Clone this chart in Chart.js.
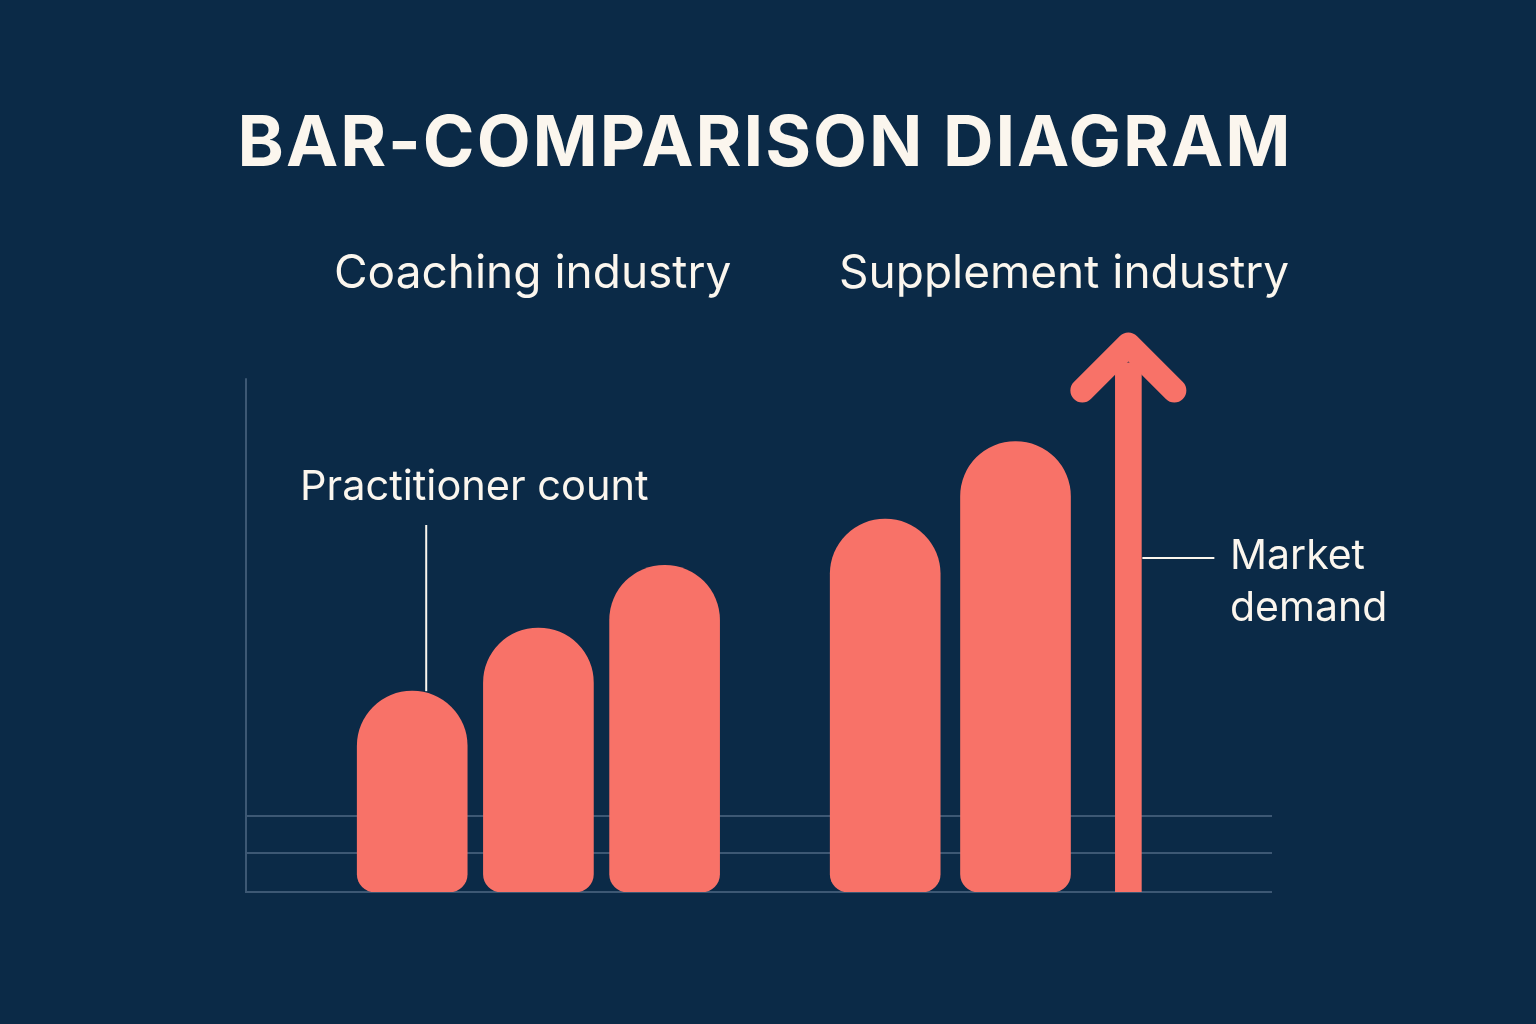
<!DOCTYPE html>
<html><head><meta charset="utf-8">
<script src="https://cdn.jsdelivr.net/npm/chart.js@4/dist/chart.umd.min.js"></script>
<style>
body{margin:0;background:#0b2a47;overflow:hidden;font-family:Inter,"Open Sans",sans-serif;color:#fbf6ee}
#wrap{position:relative;width:1536px;height:1024px}
canvas{position:absolute;left:0;top:0}
.t{position:absolute;white-space:nowrap}
</style></head><body>
<div id="wrap">
<canvas id="c" width="1536" height="1024"></canvas>
<div class="t" style="left:0;width:1530px;text-align:center;top:98px;font-size:70px;font-weight:700;letter-spacing:2px">BAR-COMPARISON DIAGRAM</div>
<div class="t" style="left:334px;top:243px;font-size:46px">Coaching industry</div>
<div class="t" style="left:839px;top:243px;font-size:46px">Supplement industry</div>
<div class="t" style="left:300px;top:460px;font-size:41.5px">Practitioner count</div>
<div class="t" style="left:1230px;top:528px;font-size:41px;line-height:52px">Market<br>demand</div>
</div>
<script>
const categories=["Coaching 1","Coaching 2","Coaching 3","Supplement 1","Supplement 2"];
const xPositions=[1.62,2.85,4.08,6.23,7.5];
const barValues=[39.1,51.4,63.6,72.6,87.7];
const arrowX=8.6, arrowValue=100;
const gridValues=[7.6,14.8];
const coral="#f87268";
const deco={id:"deco",
 beforeDatasetsDraw(ch){const c=ch.ctx,x=ch.scales.x,y=ch.scales.y;
  c.save();c.strokeStyle="#3d5874";c.lineWidth=2;
  const xl=x.getPixelForValue(0),xr=x.getPixelForValue(10);
  c.beginPath();c.moveTo(xl,y.getPixelForValue(100));c.lineTo(xl,y.getPixelForValue(0));c.lineTo(xr,y.getPixelForValue(0));
  gridValues.forEach(v=>{c.moveTo(xl,y.getPixelForValue(v));c.lineTo(xr,y.getPixelForValue(v));});
  c.stroke();c.restore();},
 afterDatasetsDraw(ch){const c=ch.ctx,x=ch.scales.x,y=ch.scales.y;
  c.save();c.strokeStyle=coral;c.lineWidth=24;c.lineCap="round";c.lineJoin="round";
  const ax=x.getPixelForValue(arrowX),ay=y.getPixelForValue(arrowValue+7);
  c.beginPath();c.moveTo(ax-46,ay+48);c.lineTo(ax,ay+2);c.lineTo(ax+46,ay+48);c.stroke();
  c.strokeStyle="#fbf6ee";c.lineWidth=2;c.lineCap="butt";
  const bx=x.getPixelForValue(xPositions[0])+14;
  c.beginPath();c.moveTo(bx,525);c.lineTo(bx,y.getPixelForValue(barValues[0]));c.stroke();
  c.beginPath();c.moveTo(ax+14,558);c.lineTo(ax+86,558);c.stroke();
  c.restore();}};
new Chart(document.getElementById("c"),{type:"bar",
 data:{datasets:[
  {data:xPositions.map((p,i)=>({x:p,y:barValues[i]})),backgroundColor:coral,barThickness:110,
   borderRadius:{topLeft:55,topRight:55,bottomLeft:18,bottomRight:18},borderSkipped:false},
  {data:[{x:arrowX,y:arrowValue+3}],backgroundColor:coral,barThickness:26,grouped:false}]},
 options:{responsive:false,devicePixelRatio:1,animation:false,
  layout:{padding:{left:246,right:264,top:327,bottom:132}},
  plugins:{legend:{display:false},tooltip:{enabled:false}},
  datasets:{bar:{grouped:false}},
  scales:{x:{type:"linear",min:0,max:10,display:false,offset:false},y:{min:0,max:110,display:false}}},
 plugins:[deco]});
</script></body></html>
